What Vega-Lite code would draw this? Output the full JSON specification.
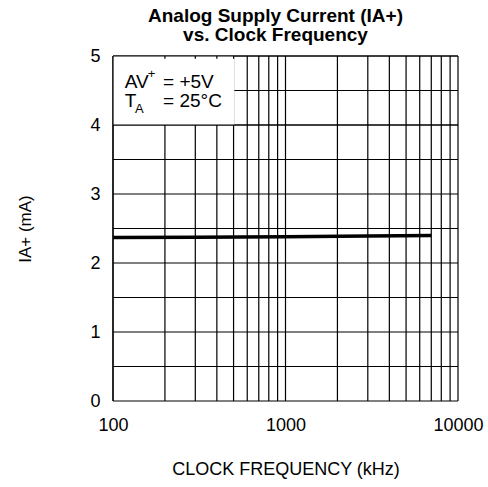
{
  "$schema": "https://vega.github.io/schema/vega-lite/v6.json",
  "width": 345,
  "height": 345,
  "autosize": "none",
  "padding": {"left": 113, "top": 56, "right": 30, "bottom": 86},
  "config": {"view": {"stroke": null}, "font": "Liberation Sans"},
  "title": {
    "text": ["Analog Supply Current (IA+)", "vs. Clock Frequency"],
    "fontSize": 19,
    "fontWeight": "bold",
    "font": "Liberation Sans",
    "lineHeight": 19,
    "anchor": "middle",
    "dx": -10,
    "offset": 2,
    "color": "black"
  },
  "datasets": {
    "vgrid": [
      {"x": 100}, {"x": 200}, {"x": 300}, {"x": 400}, {"x": 500}, {"x": 600}, {"x": 700}, {"x": 800}, {"x": 900},
      {"x": 1000}, {"x": 2000}, {"x": 3000}, {"x": 4000}, {"x": 5000}, {"x": 6000}, {"x": 7000}, {"x": 8000}, {"x": 9000},
      {"x": 10000}
    ],
    "hgrid": [
      {"y": 0}, {"y": 0.5}, {"y": 1}, {"y": 1.5}, {"y": 2}, {"y": 2.5}, {"y": 3}, {"y": 3.5}, {"y": 4}, {"y": 4.5}, {"y": 5}
    ],
    "box": [{"x": 100, "x2": 505, "y": 4, "y2": 5}],
    "ticks": [{"x": 200}, {"x": 300}, {"x": 400}, {"x": 500}],
    "curve": [
      {"x": 100, "y": 2.37},
      {"x": 300, "y": 2.372},
      {"x": 1000, "y": 2.38},
      {"x": 3000, "y": 2.39},
      {"x": 7000, "y": 2.4}
    ],
    "notes": [
      {"x": 117, "y": 4.536, "label": "AV"},
      {"x": 195, "y": 4.536, "label": "=  +5V"},
      {"x": 117, "y": 4.26, "label": "T"},
      {"x": 195, "y": 4.26, "label": "=  25°C"}
    ],
    "small": [
      {"x": 159, "y": 4.68, "label": "+"},
      {"x": 134, "y": 4.17, "label": "A"}
    ]
  },
  "layer": [
    {
      "data": {"name": "vgrid"},
      "mark": {"type": "rule", "color": "black", "strokeWidth": 1.2},
      "encoding": {
        "x": {
          "field": "x", "type": "quantitative",
          "scale": {"type": "log", "domain": [100, 10000], "nice": false},
          "axis": {
            "values": [100, 1000, 10000], "format": "d", "grid": false, "domain": false, "ticks": false,
            "labelPadding": 15, "labelFontSize": 18, "labelColor": "black", "labelFlush": false,
            "title": "CLOCK FREQUENCY (kHz)", "titleFontSize": 18, "titleFontWeight": "normal",
            "titleColor": "black", "titlePadding": 26
          }
        },
        "y": {
          "datum": 0, "type": "quantitative",
          "scale": {"domain": [0, 5], "nice": false},
          "axis": {
            "values": [0, 1, 2, 3, 4, 5], "format": "d", "grid": false, "domain": false, "ticks": false,
            "labelPadding": 13, "labelFontSize": 18, "labelColor": "black",
            "title": "IA+ (mA)", "titleFontSize": 17, "titleFontWeight": "normal",
            "titleColor": "black", "titlePadding": 55
          }
        },
        "y2": {"datum": 5}
      }
    },
    {
      "data": {"name": "hgrid"},
      "mark": {"type": "rule", "color": "black", "strokeWidth": 1.2},
      "encoding": {
        "y": {"field": "y", "type": "quantitative"},
        "x": {"datum": 100, "type": "quantitative"},
        "x2": {"datum": 10000}
      }
    },
    {
      "data": {"name": "box"},
      "mark": {"type": "rect", "color": "white"},
      "encoding": {
        "x": {"field": "x", "type": "quantitative"},
        "x2": {"field": "x2"},
        "y": {"field": "y", "type": "quantitative"},
        "y2": {"field": "y2"}
      }
    },
    {
      "data": {"name": "hgrid"},
      "transform": [{"filter": "datum.y == 4 || datum.y == 5"}],
      "mark": {"type": "rule", "color": "black", "strokeWidth": 1.2},
      "encoding": {
        "y": {"field": "y", "type": "quantitative"},
        "x": {"datum": 100, "type": "quantitative"},
        "x2": {"datum": 10000}
      }
    },
    {
      "data": {"name": "vgrid"},
      "transform": [{"filter": "datum.x == 100"}],
      "mark": {"type": "rule", "color": "black", "strokeWidth": 1.2},
      "encoding": {
        "x": {"field": "x", "type": "quantitative"},
        "y": {"datum": 0, "type": "quantitative"},
        "y2": {"datum": 5}
      }
    },
    {
      "data": {"name": "ticks"},
      "mark": {"type": "rule", "color": "black", "strokeWidth": 1.2},
      "encoding": {
        "x": {"field": "x", "type": "quantitative"},
        "y": {"datum": 4.96, "type": "quantitative"},
        "y2": {"datum": 5}
      }
    },
    {
      "data": {"name": "curve"},
      "mark": {"type": "line", "color": "black", "strokeWidth": 3.5},
      "encoding": {
        "x": {"field": "x", "type": "quantitative"},
        "y": {"field": "y", "type": "quantitative"}
      }
    },
    {
      "data": {"name": "notes"},
      "mark": {"type": "text", "align": "left", "baseline": "alphabetic", "fontSize": 19, "color": "black", "font": "Liberation Sans"},
      "encoding": {
        "x": {"field": "x", "type": "quantitative"},
        "y": {"field": "y", "type": "quantitative"},
        "text": {"field": "label"}
      }
    },
    {
      "data": {"name": "small"},
      "mark": {"type": "text", "align": "left", "baseline": "alphabetic", "fontSize": 13, "color": "black", "font": "Liberation Sans"},
      "encoding": {
        "x": {"field": "x", "type": "quantitative"},
        "y": {"field": "y", "type": "quantitative"},
        "text": {"field": "label"}
      }
    }
  ]
}
